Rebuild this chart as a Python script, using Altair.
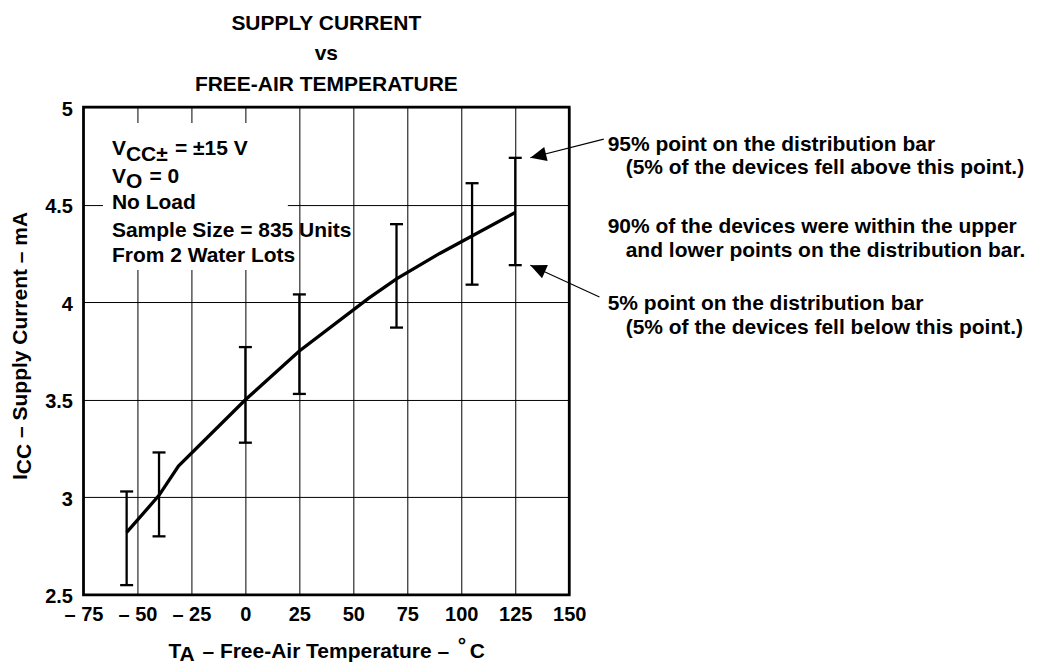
import altair as alt
import pandas as pd

# ---------------- data ----------------
temp_bars = [-55, -40, 0, 25, 70, 105, 125]
icc_high = [3.03, 3.23, 3.77, 4.04, 4.40, 4.61, 4.74]
icc_low = [2.55, 2.80, 3.28, 3.53, 3.87, 4.09, 4.19]

temp_curve = [-55, -40, -31, 0, 25, 57, 70, 90, 125]
icc_curve = [2.82, 3.01, 3.16, 3.50, 3.75, 4.02, 4.12, 4.25, 4.46]

x_ticks = [-75, -50, -25, 0, 25, 50, 75, 100, 125, 150]
y_ticks = [2.5, 3, 3.5, 4, 4.5, 5]

title_lines = ["SUPPLY CURRENT", "vs", "FREE-AIR TEMPERATURE"]
note_lines = [
    "95% point on the distribution bar",
    "(5% of the devices fell above this point.)",
    "90% of the devices were within the upper",
    "and lower points on the distribution bar.",
    "5% point on the distribution bar",
    "(5% of the devices fell below this point.)",
]
box_lines = ["No Load", "Sample Size = 835 Units", "From 2 Water Lots"]

# arrows: tail (temp, mA) -> tip (temp, mA)
arrow_tail_t = [166, 164]
arrow_tail_i = [4.836, 4.027]
arrow_tip_t = [132, 132]
arrow_tip_i = [4.74, 4.19]
arrow_angle = [346.5, 24.0]

FONT = "Liberation Sans"
FS = 21
W, H = 486, 488

xs = alt.Scale(domain=[-75, 150], nice=False, zero=False)
ys = alt.Scale(domain=[2.5, 5], nice=False, zero=False)

curve_df = pd.DataFrame({"T": temp_curve, "I": icc_curve})
bars_df = pd.DataFrame({"T": temp_bars, "hi": icc_high, "lo": icc_low})
arrow_df = pd.DataFrame({"t0": arrow_tail_t, "i0": arrow_tail_i,
                         "t1": arrow_tip_t, "i1": arrow_tip_i, "a": arrow_angle})

x_axis = alt.Axis(values=x_ticks, grid=True, ticks=False, tickSize=0, domain=False, title=None,
                  labelExpr="datum.value < 0 ? '\u2013 ' + (-datum.value) : '' + datum.value",
                  labelFlush=False, labelOverlap=False, labelPadding=10)
y_axis = alt.Axis(values=y_ticks, grid=True, ticks=False, tickSize=0, domain=False, title=None,
                  labelExpr="'' + datum.value", labelFlush=False, labelOverlap=False,
                  labelPadding=11, labelOffset=2)

curve = alt.Chart(curve_df).mark_line(color="black", strokeWidth=3.3).encode(
    x=alt.X("T:Q", scale=xs, axis=x_axis),
    y=alt.Y("I:Q", scale=ys, axis=y_axis),
)

rules = alt.Chart(bars_df).mark_rule(color="black", strokeWidth=2.3).encode(
    x=alt.X("T:Q", scale=xs), y=alt.Y("lo:Q", scale=ys), y2="hi:Q")
cap_hi = alt.Chart(bars_df).mark_tick(color="black", orient="horizontal", size=13,
                                      thickness=2.3, opacity=1).encode(
    x=alt.X("T:Q", scale=xs), y=alt.Y("hi:Q", scale=ys))
cap_lo = alt.Chart(bars_df).mark_tick(color="black", orient="horizontal", size=13,
                                      thickness=2.3, opacity=1).encode(
    x=alt.X("T:Q", scale=xs), y=alt.Y("lo:Q", scale=ys))

arrow_lines = alt.Chart(arrow_df).mark_rule(color="black", strokeWidth=1.1).encode(
    x=alt.X("t0:Q", scale=xs), y=alt.Y("i0:Q", scale=ys), x2="t1:Q", y2="i1:Q")
arrow_heads = alt.Chart(arrow_df).mark_point(
    shape="M0,0 L1,-0.45 L1,0.45 Z", filled=True, color="black", opacity=1, size=1024,
    strokeWidth=0).encode(
    x=alt.X("t1:Q", scale=xs), y=alt.Y("i1:Q", scale=ys), angle=alt.Angle("a:Q", scale=None))

box_bg = alt.Chart(pd.DataFrame({"k": [0]})).mark_rect(color="white", opacity=1).encode(
    x=alt.value(19.5), x2=alt.value(204.5), y=alt.value(16), y2=alt.value(163))


def txt(s, x, y, size=FS, align="left", angle=0, dx=0, dy=0):
    return alt.Chart(pd.DataFrame({"s": [s]})).mark_text(
        font=FONT, fontWeight="bold", fontSize=size, align=align, baseline="alphabetic",
        angle=angle, dx=dx, dy=dy, color="black").encode(
        text="s:N", x=alt.value(x), y=alt.value(y))


texts = []
# title
for line, yy in zip(title_lines, [-77, -47.5, -16.5]):
    texts.append(txt(line, W / 2, yy, align="center"))
# conditions box
texts += [
    txt("V", 28.5, 48), txt("CC\u00b1", 42.5, 54), txt("= \u00b115 V", 91.5, 48),
    txt("V", 28.5, 76), txt("O", 42.5, 81), txt("= 0", 66, 76),
]
for line, yy in zip(box_lines, [102, 129.5, 155]):
    texts.append(txt(line, 28.5, yy))
# notes on the right
for line, xx, yy in zip(note_lines, [524.5, 542.5, 524.5, 542.5, 524.5, 542.5],
                        [43.5, 67, 126, 150.3, 203, 227]):
    texts.append(txt(line, xx, yy))
# x-axis title
texts += [
    txt("T", 85, 551), txt("A", 96, 554.5), txt("\u2013 Free-Air Temperature \u2013", 119, 551),
    txt("\u00b0", 374.5, 545), txt("C", 386.5, 551),
]
# y-axis title (rotated)
texts += [
    txt("I", -56, 373, angle=270),
    txt("CC", -56, 373, angle=270, dx=5.8, dy=4),
    txt("\u2013 Supply Current \u2013 mA", -56, 373, angle=270, dx=42),
]

chart = alt.layer(box_bg, curve, rules, cap_hi, cap_lo, arrow_lines, arrow_heads, *texts).properties(
    width=W, height=H,
    padding={"left": 75.5, "top": 99, "right": 460, "bottom": 69},
    autosize=alt.AutoSizeParams(type="none"),
    background="white",
).configure_view(stroke="black", strokeWidth=2.7).configure_axis(
    gridColor="black", gridWidth=1, gridOpacity=1,
    labelFont=FONT, labelFontSize=20, labelFontWeight="bold", labelColor="black",
)

chart.save("out.html", embed_options={"renderer": "svg", "actions": False})
